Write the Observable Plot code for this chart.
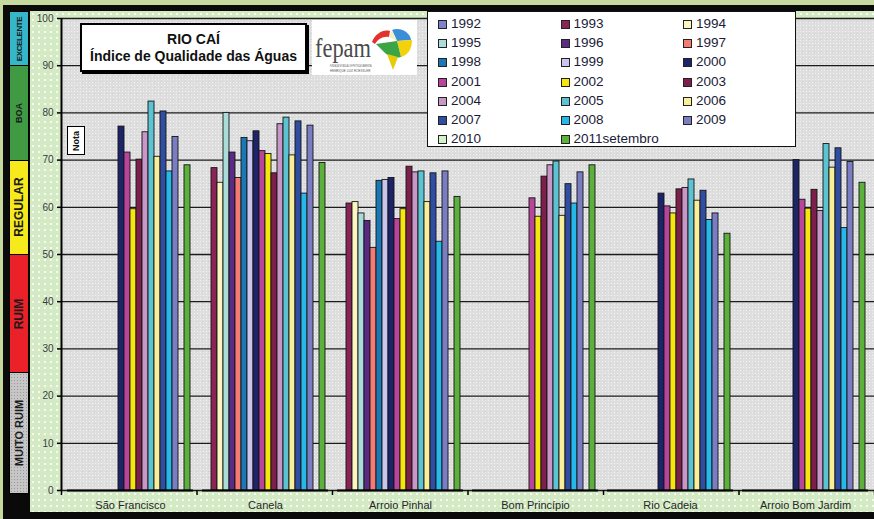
<!DOCTYPE html>
<html>
<head>
<meta charset="utf-8">
<script src="https://cdn.jsdelivr.net/npm/d3@7"></script>
<script src="https://cdn.jsdelivr.net/npm/@observablehq/plot@0.6"></script>
<style>
  html, body { margin: 0; padding: 0; background: #c6d99f; }
  #root { position: relative; width: 874px; height: 519px; overflow: hidden; background: #c6d99f; font-family: "Liberation Sans", Arial, sans-serif; }
  .abs { position: absolute; }
  #frame { left: 3px; top: 5px; width: 871px; height: 514px; background: #0a0a0a; }
  #inner { background-color: #d3eac5; background-image: radial-gradient(#f4fbef 0.8px, transparent 1px); background-size: 6px 6px; }
  #plotbg { background-color: #dedede; background-image: radial-gradient(#f2f2f2 0.7px, transparent 0.9px), radial-gradient(#c9c9c9 0.6px, transparent 0.8px); background-size: 3px 3px, 6px 6px; background-position: 0 0, 1px 1px; }
  .band { position: absolute; left: 9px; width: 20px; border: 1px solid #000; box-sizing: border-box; }
  .bandlabel { position: absolute; left: 50%; top: 50%; transform: translate(-50%, -50%) rotate(-90deg); font-weight: bold; white-space: nowrap; color: #1a1a1a; }
  svg.layer { position: absolute; left: 0; top: 0; }
  #title { left: 80px; top: 23px; width: 223px; height: 45px; background: #fff; border: 2px solid #000; box-shadow: 2px 2px 0 #000; text-align: center; font-weight: bold; color: #111; }
  #logo { left: 312px; top: 20px; width: 105px; height: 55px; background: #fff; }
  #nota { left: 67px; top: 126px; width: 18px; height: 29px; background: #fff; border: 1.5px solid #000; box-sizing: border-box; }
  #legend { left: 427px; top: 11px; width: 367px; height: 134px; background: #fff; border: 1.5px solid #111; box-sizing: content-box; }
  .litem { position: absolute; font-size: 13.5px; color: #1b1b38; white-space: nowrap; line-height: 14px; }
  .lsw { position: absolute; width: 7px; height: 7px; border: 1px solid #222; top: 3px; left: 0; }
</style>
</head>
<body>
<div id="root">
  <div id="frame" class="abs"></div>
  <div id="inner" class="abs"></div>
  <div id="plotbg" class="abs"></div>
</div>
<script>
// ---------------- data ----------------
const locations = ["São Francisco", "Canela", "Arroio Pinhal", "Bom Princípio", "Rio Cadeia", "Arroio Bom Jardim"];
const series = ["1992","1993","1994","1995","1996","1997","1998","1999","2000","2001","2002","2003","2004","2005","2006","2007","2008","2009","2010","2011setembro"];
const seriesColors = ["#7f80cf","#8a2457","#fbf6bf","#aadcda","#5a2a84","#f47a72","#1a78b6","#c8c6ec","#1e2468","#b8449b","#f5e60c","#7c1f4b","#c897c8","#5cc3d2","#f8ef98","#2f4ea2","#27b8ea","#7b7dc2","#d2f2cc","#5cb03c"];
const N = null;
const saoFrancisco    = [N,N,N,N,N,N,N,N,77.1,71.6,59.6,70.1,75.9,82.4,70.7,80.3,67.6,74.9,N,68.9];
const canela          = [N,68.3,65.2,80.0,71.6,66.2,74.7,74.0,76.1,71.9,71.3,67.2,77.6,79.0,71.0,78.2,62.9,77.3,N,69.4];
const arroioPinhal    = [N,60.8,61.1,58.7,57.1,51.4,65.6,65.8,66.2,57.5,59.6,68.6,67.4,67.6,61.1,67.2,52.7,67.6,N,62.2];
const bomPrincipio    = [N,N,N,N,N,N,N,N,N,61.9,58.0,66.5,68.9,69.7,58.2,64.9,60.8,67.4,N,68.9];
const rioCadeia       = [N,N,N,N,N,N,N,N,62.9,60.2,58.7,63.8,64.1,65.9,61.4,63.5,57.3,58.7,N,54.4];
const arroioBomJardim = [N,N,N,N,N,N,N,N,70.0,61.6,59.7,63.7,59.2,73.4,68.4,72.5,55.6,69.6,N,65.2];
const yTicks = [0,10,20,30,40,50,60,70,80,90,100];
const qualityLabels = ["EXCELENTE","BOA","REGULAR","RUIM","MUITO RUIM"];
const qualityMax = [100, 90, 70, 50, 25];
const qualityMin = [90, 70, 50, 25, 0];
const qualityColors = ["#35b6c9","#3f9a43","#f6e91c","#ea2129","#c6c6c6"];
const qualityFont = [8, 9, 12, 12, 11];
const titleLines = ["RIO CAÍ", "Índice de Qualidade das Águas"];

const valuesByLocation = [saoFrancisco, canela, arroioPinhal, bomPrincipio, rioCadeia, arroioBomJardim];
const rows = [];
valuesByLocation.forEach((vals, li) => vals.forEach((v, si) => {
  if (v != null) rows.push({loc: locations[li], series: series[si], value: v});
}));
const boundaries = d3.range(locations.length + 1);

// ---------------- layout ----------------
const W = 874, H = 519;
const margins = {marginTop: 18, marginRight: 0, marginBottom: 29, marginLeft: 61};
const font = "'Liberation Sans', Arial, sans-serif";

const bgPlot = Plot.plot({
  width: W, height: H, ...margins,
  style: {background: "transparent", fontFamily: font, fontSize: "10px", color: "#000"},
  x: {domain: [0, locations.length]},
  y: {domain: [0, 100]},
  marks: [
    Plot.gridY(yTicks, {stroke: "#1c1c1c", strokeOpacity: 1, strokeWidth: 1.3}),
    Plot.axisY(yTicks, {tickSize: 4, tickPadding: 4, fill: "#3a3a3a", stroke: "#000", strokeWidth: 1.5, label: null, fontSize: 10}),
    Plot.axisX(boundaries, {tickSize: 5, tickFormat: () => "", stroke: "#000", strokeWidth: 1.5, label: null}),
    Plot.ruleX([0], {stroke: "#000", strokeWidth: 2})
  ]
});
bgPlot.classList.add("layer");

const fgPlot = Plot.plot({
  width: W, height: H, ...margins,
  style: {background: "transparent", fontFamily: font, fontSize: "11px", color: "#000"},
  fx: {domain: locations, paddingInner: 0.063, paddingOuter: 0.0315, label: null},
  x: {domain: series, padding: 0, axis: null},
  y: {domain: [0, 100], axis: null},
  color: {domain: series, range: seriesColors},
  marks: [
    Plot.barY(rows, {fx: "loc", x: "series", y: "value", fill: "series", stroke: "#141414", strokeWidth: 0.9}),
    Plot.axisFx({anchor: "bottom", tickSize: 0, tickPadding: 11, fontSize: 11, fill: "#262626", label: null}),
    Plot.ruleY([0], {stroke: "#000", strokeWidth: 2, facet: "exclude"})
  ]
});
fgPlot.classList.add("layer");

const root = document.getElementById("root");
const ys = bgPlot.scale("y");
const xs = bgPlot.scale("x");
const y = v => ys.apply(v);
const xL = xs.apply(0), xR = xs.apply(locations.length);

// inner panel & plot background
const frameTop = 11, frameBottom = 512;
Object.assign(document.getElementById("inner").style, {left: "30px", top: frameTop + "px", width: (W - 30) + "px", height: (frameBottom - frameTop) + "px"});
Object.assign(document.getElementById("plotbg").style, {left: xL + "px", top: y(100) + "px", width: (xR - xL) + "px", height: (y(0) - y(100)) + "px"});

// quality bands (positions from y scale, outer ones extended to the frame)
qualityLabels.forEach((lab, i) => {
  const top = i === 0 ? frameTop : y(qualityMax[i]);
  const bottom = i === qualityLabels.length - 1 ? frameBottom - 19 : y(qualityMin[i]);
  const b = document.createElement("div");
  b.className = "band";
  b.style.top = top + "px";
  b.style.height = (bottom - top + 1) + "px";
  b.style.background = qualityColors[i];
  if (i === 4) b.style.backgroundImage = "radial-gradient(#9a9a9a 0.6px, transparent 0.8px)", b.style.backgroundSize = "3px 3px";
  const t = document.createElement("div");
  t.className = "bandlabel";
  t.style.fontSize = qualityFont[i] + "px";
  if (i === 0) t.style.letterSpacing = "-0.4px";
  t.textContent = lab;
  b.appendChild(t);
  root.appendChild(b);
});

root.appendChild(bgPlot);
root.appendChild(fgPlot);

// title box
const title = document.createElement("div");
title.id = "title"; title.className = "abs";
title.innerHTML = `<div style="font-size:14px;margin-top:6px;line-height:16px">${titleLines[0]}</div><div style="font-size:14px;line-height:18px">${titleLines[1]}</div>`;
root.appendChild(title);

// logo
const logo = document.createElement("div");
logo.id = "logo"; logo.className = "abs";
logo.innerHTML = `
<svg width="105" height="55" style="position:absolute;left:0;top:0">
  <text x="3" y="37" textLength="56" lengthAdjust="spacingAndGlyphs" font-family="'Liberation Serif', 'DejaVu Serif', serif" font-size="28" fill="#4a4a4a">fepam</text>
  <text x="18" y="47" textLength="42" lengthAdjust="spacingAndGlyphs" font-family="${font}" font-size="3" fill="#555">FUNDAÇÃO ESTADUAL DE PROTEÇÃO AMBIENTAL</text>
  <text x="18" y="51.5" font-family="${font}" font-size="3" fill="#555">HENRIQUE LUIZ ROESSLER</text>
  <g transform="translate(56,6)">
    <path d="M4 16 C7 8 15 3 22 5 L21 11 C15 10 10 13 7 18 Z" fill="#e3312d"/>
    <path d="M24 4 C32 1 42 6 43 14 L29 15 Z" fill="#3b8fd6"/>
    <path d="M29 15 L44 14 C44 23 40 29 33 31 Z" fill="#f3d20a"/>
    <path d="M8 18 L29 15 L33 31 C27 33 21 31 16 26 Z" fill="#3ba444"/>
    <path d="M19 28 L25 44 L30 31 Z" fill="#e8cb08"/>
    <path d="M21 11 L24 4 L29 15 Z" fill="#f5f0c8"/>
  </g>
</svg>`;
root.appendChild(logo);

// Nota box
const nota = document.createElement("div");
nota.id = "nota"; nota.className = "abs";
nota.innerHTML = `<div class="bandlabel" style="font-size:9px;color:#111">Nota</div>`;
root.appendChild(nota);

// legend
const legend = document.createElement("div");
legend.id = "legend"; legend.className = "abs";
series.forEach((s, i) => {
  const col = i % 3, row = Math.floor(i / 3);
  const it = document.createElement("div");
  it.className = "litem";
  it.style.left = (10 + col * 122.5) + "px";
  it.style.top = (5 + row * 19.2) + "px";
  it.innerHTML = `<span class="lsw" style="background:${seriesColors[i]}"></span><span style="margin-left:13px">${s}</span>`;
  legend.appendChild(it);
});
root.appendChild(legend);
</script>
</body>
</html>
